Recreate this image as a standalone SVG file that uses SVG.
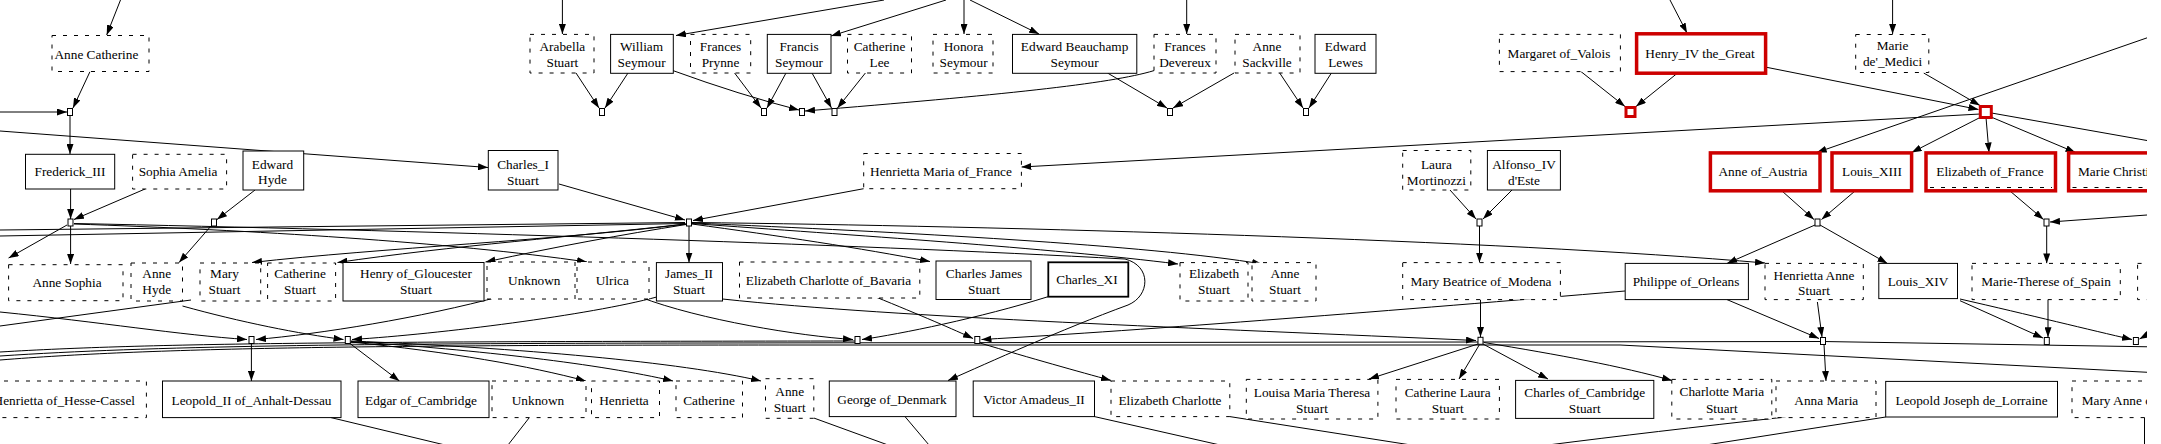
<svg xmlns="http://www.w3.org/2000/svg" width="2161" height="444" viewBox="0 0 2161 444">
<defs>
<marker id="a" viewBox="0 0 10 7" refX="10" refY="3.5" markerWidth="10" markerHeight="7" markerUnits="userSpaceOnUse" orient="auto"><path d="M0,0 L10,3.5 L0,7 z" fill="#000"/></marker>
<clipPath id="clip"><rect x="0" y="0" width="2147" height="444"/></clipPath>
<style>
.t{font-family:"Liberation Serif","Times New Roman",serif;font-size:13.3px;fill:#000;text-anchor:middle}
.s{fill:#fff;stroke:#000;stroke-width:1}
.d{fill:#fff;stroke:#000;stroke-width:1;stroke-dasharray:4,7}
.di{fill:none;stroke:#000;stroke-width:1;stroke-dasharray:4,7}
.r{fill:#fff;stroke:#cd0000;stroke-width:3.5}
.u{fill:#fff;stroke:#000;stroke-width:1}
.ur{fill:#fff;stroke:#cd0000;stroke-width:3}
#edges path{fill:none;stroke:#000;stroke-width:1}
#edges path.e{marker-end:url(#a)}
</style>
</defs>
<rect width="2161" height="444" fill="#fff"/>
<g clip-path="url(#clip)">
<g id="edges">
<path class="e" d="M120.5,0 L106.7,35"/>
<path class="e" d="M562.4,0 L562.4,34"/>
<path class="e" d="M884,0 L676,35.5"/>
<path class="e" d="M946,0 L831,36"/>
<path class="e" d="M964,0 L964,34"/>
<path class="e" d="M970,0 L1039,34"/>
<path class="e" d="M1186.7,0 L1186.7,34"/>
<path class="e" d="M1670,0 L1687,33"/>
<path class="e" d="M1892.6,0 L1892.6,34"/>
<path class="e" d="M90,71.6 L73,108"/>
<path class="e" d="M0,112 L67,112"/>
<path class="e" d="M70,115.5 L70,154"/>
<path class="e" d="M0,131 L488,167.5"/>
<path class="e" d="M576,73 L599,108"/>
<path class="e" d="M628,73 L605,108"/>
<path class="e" d="M734.6,73 L761,108"/>
<path class="e" d="M786,73 L767,108"/>
<path class="e" d="M673,70.6 Q740,95 799,110"/>
<path class="e" d="M1154,70.6 C1110,84 1000,95 805,111"/>
<path class="e" d="M812,73 L831.5,108"/>
<path class="e" d="M865.4,73 L837.5,108"/>
<path class="e" d="M1107.5,73 L1167,108"/>
<path class="e" d="M1234,73 L1173,108"/>
<path class="e" d="M1279.7,73 L1303,108"/>
<path class="e" d="M1331.4,73 L1309,108"/>
<path class="e" d="M1581,71.6 L1625,106.5"/>
<path class="e" d="M1677,73.5 L1636,106.5"/>
<path class="e" d="M1766.6,67.3 L1978.5,109.5"/>
<path class="e" d="M1923.7,73 L1980,105.5"/>
<path class="e" d="M1980,114 L1021.4,167"/>
<path class="e" d="M1980,117.5 L1911.6,152.5"/>
<path class="e" d="M1986,117.5 L1989,152.5"/>
<path class="e" d="M1991,117 L2075.5,152.5"/>
<path d="M1991.5,113 L2161,143"/>
<path class="e" d="M2161,33 L1816.7,152.5"/>
<path class="e" d="M70.6,189 L70.6,219"/>
<path class="e" d="M145,189 L74,219.5"/>
<path class="e" d="M255,190 L217,219.5"/>
<path class="e" d="M559,184 L685,220"/>
<path class="e" d="M863.7,188.7 L693,220.5"/>
<path class="e" d="M1450,190 L1476,219"/>
<path class="e" d="M1512,190 L1483,219"/>
<path class="e" d="M1782,191 L1814,219.5"/>
<path class="e" d="M1855,191 L1821.5,219.5"/>
<path class="e" d="M2010,191 L2043.5,219.5"/>
<path class="e" d="M2161,214 L2050,222"/>
<path class="e" d="M70.6,226 L70.6,264"/>
<path class="e" d="M67,225 L8.6,258"/>
<path class="e" d="M211,226 L179,262.6"/>
<path class="e" d="M689,226 L689,262.6"/>
<path class="e" d="M1479.5,226 L1479.5,262.6"/>
<path class="e" d="M1815,225 L1727,263.4"/>
<path class="e" d="M1820,225 L1887.4,263.4"/>
<path class="e" d="M2046.7,226 L2046.7,263.4"/>
<path class="e" d="M686,224 C560,240 380,248 252,262.5"/>
<path class="e" d="M686,224 C580,236 450,246 337.5,262.5"/>
<path class="e" d="M686,224.5 C620,235 560,246 485.5,262"/>
<path class="e" d="M692,224 C780,236 860,248 930,261.5"/>
<path class="e" d="M692,223.5 C850,235 1050,248 1178,264"/>
<path class="e" d="M692,223 C900,232 1150,245 1262,264"/>
<path class="e" d="M692,222.5 C1000,226 1500,240 1765,263"/>
<path d="M0,230 L685,222.5"/>
<path d="M0,236 L685,223.5"/>
<path class="e" d="M74,224 C250,230 450,242 587,262"/>
<path class="e" d="M74,223.5 C400,230 850,244 1125,259 C1152,266 1150,296 1128,305 C1060,330 990,362 948,380.5"/>
<path class="e" d="M0,312 C100,322 180,335 247,339.5"/>
<path class="e" d="M502,296 C420,318 320,334 256,339.5"/>
<path class="e" d="M182.5,306 C240,322 300,334 343.5,339.5"/>
<path class="e" d="M656.7,297 C590,315 440,334 352,339.5"/>
<path d="M191,300 L0,326"/>
<path class="e" d="M251.4,343.5 L251.4,381"/>
<path class="e" d="M350,343.5 L399.4,381"/>
<path class="e" d="M351,342 C450,352 530,366 585.8,381"/>
<path class="e" d="M351,341.5 C480,350 600,364 673,381"/>
<path class="e" d="M351,341 C520,348 680,362 761,381"/>
<path class="e" d="M640,297 C700,320 800,336 853,339.5"/>
<path class="e" d="M1048,296.7 C980,318 900,334 862,339.5"/>
<path class="e" d="M875,296.7 C920,315 955,330 973,338.5"/>
<path class="e" d="M1625,291 C1400,310 1150,330 981.5,339.5"/>
<path class="e" d="M980,343 C1030,358 1080,372 1111,380.4"/>
<path class="e" d="M722.5,299 C900,318 1200,328 1476,340.5"/>
<path class="e" d="M1480.5,299.5 L1480.5,337"/>
<path class="e" d="M1478,344 L1369,379"/>
<path class="e" d="M1479.5,344.5 L1459,379"/>
<path class="e" d="M1483,344 L1548,379"/>
<path class="e" d="M1484,342.5 C1560,355 1620,366 1672,380.5"/>
<path class="e" d="M1727,299.6 L1819,338.5"/>
<path class="e" d="M1817.4,302 L1822,337"/>
<path class="e" d="M1824,344.5 L1826,381"/>
<path class="e" d="M1960,300.7 L2043,338"/>
<path class="e" d="M2048,299.6 L2048,337.2"/>
<path class="e" d="M1960,299 C2030,315 2090,330 2132,339.5"/>
<path class="e" d="M2161,327 L2139.5,339"/>
<path d="M0,352 C150,343 350,341.5 857,341"/>
<path d="M0,356 C150,346 350,343.5 700,343 L1480,342 L1823,341.5 L2161,347"/>
<path d="M0,360 C150,348 350,345 800,345 L1620,345 L2161,373"/>
<path d="M331,417.6 L445,445"/>
<path d="M529,418 L508,445"/>
<path d="M813.8,418 L888,445"/>
<path d="M905,416.6 L929,445"/>
<path d="M1094.5,416.6 L1220,445"/>
<path d="M1229.8,416.6 L1411,445"/>
<path d="M1785.6,417 Q1650,432 1548,445"/>
<path d="M1885.7,417 L1706,445"/>
<path d="M2144.5,417 L2144.5,445"/>
</g>
<g id="unions">
<rect id="u_ac" class="u" x="67.5" y="108.5" width="5" height="7"/>
<rect id="u_aw" class="u" x="599.5" y="108.5" width="5" height="7"/>
<rect id="u_pf" class="u" x="761.5" y="108.5" width="5" height="7"/>
<rect id="u_wd" class="u" x="799.5" y="108.5" width="5" height="7"/>
<rect id="u_fc" class="u" x="832" y="108.5" width="5" height="7"/>
<rect id="u_eb" class="u" x="1167.5" y="108.5" width="5" height="7"/>
<rect id="u_sl" class="u" x="1303.5" y="108.5" width="5" height="7"/>
<rect id="u_mh" class="ur" x="1626" y="107.5" width="9" height="9"/>
<rect id="u_hm" class="ur" x="1980.3" y="106.5" width="11" height="11"/>
<rect id="u_1" class="u" x="68" y="219" width="5" height="7"/>
<rect id="u_2" class="u" x="211.5" y="219" width="5" height="7"/>
<rect id="u_ch" class="u" x="686.5" y="219" width="5" height="7"/>
<rect id="u_la" class="u" x="1477" y="219" width="5" height="7"/>
<rect id="u_al" class="u" x="1815" y="219" width="5" height="7"/>
<rect id="u_ef" class="u" x="2044" y="219" width="5" height="7"/>
<rect id="u_a" class="u" x="249" y="336.5" width="5" height="7"/>
<rect id="u_b" class="u" x="345.3" y="336.5" width="5" height="7"/>
<rect id="u_c" class="u" x="855" y="336.5" width="5" height="7"/>
<rect id="u_d" class="u" x="974.8" y="336.5" width="5" height="7"/>
<rect id="u_e" class="u" x="1478" y="337.3" width="5" height="7"/>
<rect id="u_f" class="u" x="1820.5" y="337.5" width="5" height="7"/>
<rect id="u_g" class="u" x="2044.3" y="337.5" width="5" height="7"/>
<rect id="u_h" class="u" x="2133.4" y="337.5" width="5" height="7"/>
</g>
<g id="n_anne_catherine"><rect class="d" x="52" y="35.5" width="97" height="36"/><text class="t" x="96.4" y="58.5">Anne Catherine</text></g>
<g id="n_arabella"><rect class="d" x="530" y="34.4" width="64" height="38.6"/><text class="t" x="562.4" y="50.5">Arabella<tspan x="562.4" dy="16.2">Stuart</tspan></text></g>
<g id="n_william"><rect class="s" x="610.6" y="34.4" width="62.7" height="38.9"/><text class="t" x="641.6" y="50.5">William<tspan x="641.6" dy="16.2">Seymour</tspan></text></g>
<g id="n_frances_prynne"><rect class="d" x="690.5" y="34.4" width="60.2" height="38.6"/><text class="t" x="720.5" y="50.5">Frances<tspan x="720.5" dy="16.2">Prynne</tspan></text></g>
<g id="n_francis"><rect class="s" x="767.3" y="34.4" width="63.7" height="38.9"/><text class="t" x="799" y="50.5">Francis<tspan x="799" dy="16.2">Seymour</tspan></text></g>
<g id="n_catherine_lee"><rect class="d" x="847.5" y="34.4" width="64" height="38.6"/><text class="t" x="879.5" y="50.5">Catherine<tspan x="879.5" dy="16.2">Lee</tspan></text></g>
<g id="n_honora"><rect class="d" x="933" y="34.4" width="60" height="38.6"/><text class="t" x="963.6" y="50.5">Honora<tspan x="963.6" dy="16.2">Seymour</tspan></text></g>
<g id="n_edward_beauchamp"><rect class="s" x="1012.5" y="34.4" width="124.3" height="38.9"/><text class="t" x="1074.6" y="50.5">Edward Beauchamp<tspan x="1074.6" dy="16.2">Seymour</tspan></text></g>
<g id="n_frances_devereux"><rect class="d" x="1154" y="34.4" width="62" height="38.6"/><text class="t" x="1185" y="50.5">Frances<tspan x="1185" dy="16.2">Devereux</tspan></text></g>
<g id="n_anne_sackville"><rect class="d" x="1235" y="34.4" width="65" height="38.6"/><text class="t" x="1267" y="50.5">Anne<tspan x="1267" dy="16.2">Sackville</tspan></text></g>
<g id="n_edward_lewes"><rect class="s" x="1315" y="34.4" width="61" height="38.9"/><text class="t" x="1345.5" y="50.5">Edward<tspan x="1345.5" dy="16.2">Lewes</tspan></text></g>
<g id="n_margaret"><rect class="d" x="1499.4" y="34.4" width="121" height="37.2"/><text class="t" x="1559" y="58">Margaret of_Valois</text></g>
<g id="n_henry_iv"><rect class="r" x="1636.6" y="33.8" width="129" height="39.4"/><text class="t" x="1700" y="58">Henry_IV the_Great</text></g>
<g id="n_marie_medici"><rect class="d" x="1855.7" y="34.5" width="73.1" height="38"/><text class="t" x="1892.6" y="50">Marie<tspan x="1892.6" dy="16.4">de'_Medici</tspan></text></g>
<g id="n_frederick"><rect class="s" x="25.5" y="154.3" width="89.2" height="34.7"/><text class="t" x="70" y="176">Frederick_III</text></g>
<g id="n_sophia"><rect class="d" x="132.6" y="154.3" width="94" height="34.7"/><text class="t" x="178" y="176">Sophia Amelia</text></g>
<g id="n_edward_hyde"><rect class="s" x="243" y="151" width="60.7" height="39"/><text class="t" x="272.5" y="168.5">Edward<tspan x="272.5" dy="15.8">Hyde</tspan></text></g>
<g id="n_charles_i"><rect class="s" x="488.3" y="150.5" width="69.7" height="39.5"/><text class="t" x="523" y="168.5">Charles_I<tspan x="523" dy="16">Stuart</tspan></text></g>
<g id="n_henrietta_maria"><rect class="d" x="863.7" y="153.5" width="157.7" height="35.2"/><text class="t" x="941" y="176">Henrietta Maria of_France</text></g>
<g id="n_laura"><rect class="d" x="1402.7" y="150.5" width="68.1" height="39.5"/><text class="t" x="1436.4" y="169">Laura<tspan x="1436.4" dy="16.2">Mortinozzi</tspan></text></g>
<g id="n_alfonso"><rect class="s" x="1487.4" y="150.5" width="73" height="39.5"/><text class="t" x="1524" y="169">Alfonso_IV<tspan x="1524" dy="16.2">d'Este</tspan></text></g>
<g id="n_anne_austria"><rect class="r" x="1710.4" y="152.9" width="109.6" height="37.9"/><text class="t" x="1763" y="176">Anne of_Austria</text></g>
<g id="n_louis_xiii"><rect class="r" x="1832" y="152.9" width="79.6" height="37.9"/><text class="t" x="1872" y="176">Louis_XIII</text></g>
<g id="n_elizabeth_france"><rect class="r" x="1926" y="152.9" width="129.5" height="37.9"/><path class="di" d="M1930,187.5 L2052,187.5"/><text class="t" x="1990" y="176">Elizabeth of_France</text></g>
<g id="n_marie_christine"><rect class="r" x="2068.6" y="152.9" width="130" height="37.9"/><path class="di" d="M2072.5,187.5 L2195,187.5"/><text class="t" x="2078" y="176" style="text-anchor:start">Marie Christine</text></g>
<g id="n_anne_sophia"><rect class="d" x="8.6" y="264.7" width="114.4" height="36"/><text class="t" x="67" y="286.5">Anne Sophia</text></g>
<g id="n_anne_hyde"><rect class="d" x="131" y="263" width="51.5" height="38"/><text class="t" x="156.7" y="278">Anne<tspan x="156.7" dy="16.2">Hyde</tspan></text></g>
<g id="n_mary_stuart"><rect class="d" x="200" y="263" width="60.7" height="38"/><text class="t" x="224.5" y="278">Mary<tspan x="224.5" dy="16.2">Stuart</tspan></text></g>
<g id="n_catherine_stuart"><rect class="d" x="267.6" y="263" width="68" height="38"/><text class="t" x="300" y="278">Catherine<tspan x="300" dy="16.2">Stuart</tspan></text></g>
<g id="n_henry_gloucester"><rect class="s" x="343" y="262.5" width="141" height="38.5"/><text class="t" x="416" y="278">Henry of_Gloucester<tspan x="416" dy="16.2">Stuart</tspan></text></g>
<g id="n_unknown1"><rect class="d" x="487" y="262" width="88" height="37"/><text class="t" x="534.3" y="284.5">Unknown</text></g>
<g id="n_ulrica"><rect class="d" x="577" y="262" width="72" height="37"/><text class="t" x="612.3" y="284.5">Ulrica</text></g>
<g id="n_james_ii"><rect class="s" x="656.4" y="262.6" width="66.1" height="38.4"/><text class="t" x="689" y="278">James_II<tspan x="689" dy="16.2">Stuart</tspan></text></g>
<g id="n_ec_bavaria"><rect class="d" x="739.5" y="262" width="180.3" height="36"/><text class="t" x="828.5" y="284.5">Elizabeth Charlotte of_Bavaria</text></g>
<g id="n_charles_james"><rect class="s" x="936" y="261" width="95" height="38.5"/><text class="t" x="984" y="277.5">Charles James<tspan x="984" dy="16.2">Stuart</tspan></text></g>
<g id="n_charles_xi"><rect class="s" x="1048.3" y="262.3" width="80" height="34.4" style="stroke-width:1.8"/><text class="t" x="1087" y="284">Charles_XI</text></g>
<g id="n_elizabeth_stuart"><rect class="d" x="1180" y="262.6" width="68" height="38.4"/><text class="t" x="1214" y="278">Elizabeth<tspan x="1214" dy="16.2">Stuart</tspan></text></g>
<g id="n_anne_stuart1"><rect class="d" x="1252" y="262.6" width="64" height="38.4"/><text class="t" x="1285" y="278">Anne<tspan x="1285" dy="16.2">Stuart</tspan></text></g>
<g id="n_mary_beatrice"><rect class="d" x="1402.7" y="262.6" width="157.7" height="37"/><text class="t" x="1481" y="285.5">Mary Beatrice of_Modena</text></g>
<g id="n_philippe"><rect class="s" x="1625.2" y="263.4" width="123.2" height="36.2"/><text class="t" x="1686" y="286">Philippe of_Orleans</text></g>
<g id="n_henrietta_anne"><rect class="d" x="1765" y="263.4" width="98.3" height="36.2"/><text class="t" x="1814" y="280">Henrietta Anne<tspan x="1814" dy="15">Stuart</tspan></text></g>
<g id="n_louis_xiv"><rect class="s" x="1878.8" y="263.4" width="78.7" height="35.2"/><text class="t" x="1918" y="285.5">Louis_XIV</text></g>
<g id="n_marie_therese"><rect class="d" x="1972" y="263.4" width="148.3" height="36.2"/><text class="t" x="2046" y="285.5">Marie-Therese of_Spain</text></g>
<g id="n_cut3"><rect class="d" x="2137.6" y="263.4" width="60" height="36.2"/></g>
<g id="n_henrietta_hesse"><rect class="d" x="-40" y="381" width="186.4" height="36.6"/><text class="t" x="135" y="404.5" style="text-anchor:end">Henrietta of_Hesse-Cassel</text></g>
<g id="n_leopold_ii"><rect class="s" x="162.5" y="381" width="178.5" height="36.6"/><text class="t" x="251.5" y="404.5">Leopold_II of_Anhalt-Dessau</text></g>
<g id="n_edgar"><rect class="s" x="358" y="381" width="131" height="36.6"/><text class="t" x="421" y="404.5">Edgar of_Cambridge</text></g>
<g id="n_unknown2"><rect class="d" x="492" y="381" width="94" height="36.6"/><text class="t" x="538" y="404.5">Unknown</text></g>
<g id="n_henrietta"><rect class="d" x="591.5" y="381" width="68" height="36.6"/><text class="t" x="624" y="404.5">Henrietta</text></g>
<g id="n_catherine"><rect class="d" x="676" y="381" width="66.5" height="36.6"/><text class="t" x="709" y="404.5">Catherine</text></g>
<g id="n_anne_stuart2"><rect class="d" x="765.5" y="378.7" width="48.3" height="39.6"/><text class="t" x="789.7" y="396.3">Anne<tspan x="789.7" dy="15.2">Stuart</tspan></text></g>
<g id="n_george"><rect class="s" x="829.3" y="381" width="126.7" height="35.6"/><text class="t" x="892" y="404">George of_Denmark</text></g>
<g id="n_victor"><rect class="s" x="973.2" y="381" width="121.3" height="35.6"/><text class="t" x="1034" y="404">Victor Amadeus_II</text></g>
<g id="n_elizabeth_charlotte"><rect class="d" x="1111" y="381" width="118.8" height="35.6"/><text class="t" x="1170" y="404.5">Elizabeth Charlotte</text></g>
<g id="n_louisa"><rect class="d" x="1246.3" y="379.4" width="131.6" height="39.6"/><text class="t" x="1312" y="397">Louisa Maria Theresa<tspan x="1312" dy="15.5">Stuart</tspan></text></g>
<g id="n_catherine_laura"><rect class="d" x="1396" y="379.4" width="103.4" height="39.6"/><text class="t" x="1447.7" y="397">Catherine Laura<tspan x="1447.7" dy="15.5">Stuart</tspan></text></g>
<g id="n_charles_cambridge"><rect class="s" x="1515.6" y="380.4" width="138.2" height="38"/><text class="t" x="1584.7" y="397">Charles of_Cambridge<tspan x="1584.7" dy="15.5">Stuart</tspan></text></g>
<g id="n_charlotte_maria"><rect class="d" x="1671.8" y="379.4" width="100" height="39.6"/><text class="t" x="1721.8" y="396.3">Charlotte Maria<tspan x="1721.8" dy="16.2">Stuart</tspan></text></g>
<g id="n_anna_maria"><rect class="d" x="1776" y="381" width="100" height="36.6"/><text class="t" x="1826.3" y="404.5">Anna Maria</text></g>
<g id="n_leopold_joseph"><rect class="s" x="1885.7" y="381.4" width="171.8" height="35.6"/><text class="t" x="1971.6" y="404.5">Leopold Joseph de_Lorraine</text></g>
<g id="n_mary_anne"><rect class="d" x="2072" y="381" width="150" height="36.6"/><text class="t" x="2081.7" y="404.5" style="text-anchor:start">Mary Anne of</text></g>
</g>
</svg>
